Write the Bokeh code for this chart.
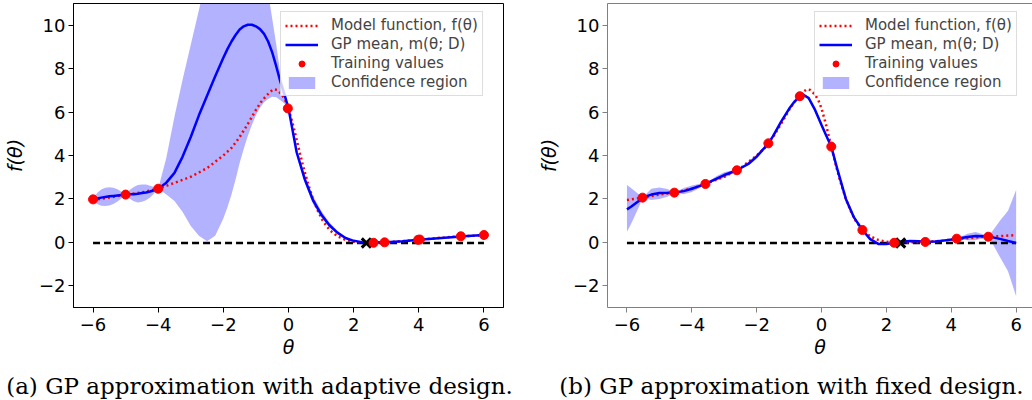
from bokeh.plotting import figure
from bokeh.models import Range1d, FixedTicker, LinearAxis, Legend, LegendItem, Label
from bokeh.layouts import column, row
from bokeh.embed import file_html
from bokeh.resources import INLINE

# ---------------- data ----------------
x_ticks = [-6, -4, -2, 0, 2, 4, 6]
x_tick_labels = ["\u22126", "\u22124", "\u22122", "0", "2", "4", "6"]
y_ticks = [-2, 0, 2, 4, 6, 8, 10]
y_tick_labels = ["\u22122", "0", "2", "4", "6", "8", "10"]

# model function f(theta) (same in both panels)
theta_model = [-6.0, -5.5, -5.0, -4.5, -4.0, -3.5, -3.0, -2.5, -2.0, -1.75, -1.5, -1.25,
               -1.0, -0.85, -0.7, -0.55, -0.45, -0.35, -0.2, -0.1, 0.0, 0.15, 0.3, 0.45,
               0.6, 0.75, 0.9, 1.05, 1.26, 1.5, 1.75, 2.0, 2.25, 2.5, 3.0, 3.5, 4.0, 4.5,
               5.0, 5.5, 6.0]
f_model = [1.95, 2.06, 2.2, 2.3, 2.47, 2.74, 3.02, 3.42, 4.0, 4.35, 4.85, 5.45,
           6.1, 6.45, 6.72, 6.95, 7.05, 7.02, 6.8, 6.55, 6.17, 5.35, 4.41, 3.5,
           2.7, 2.0, 1.45, 1.0, 0.57, 0.28, 0.11, 0.03, -0.01, -0.01, 0.01, 0.05, 0.12, 0.19,
           0.25, 0.29, 0.33]

threshold_theta = [-6.0, 6.0]
threshold_f = [-0.03, -0.03]

# (a) adaptive design
theta_a = [-6.0, -5.875, -5.75, -5.625, -5.5, -5.375, -5.25, -5.125, -5.0, -4.875, -4.75,
           -4.625, -4.5, -4.375, -4.25, -4.125, -4.0, -3.75, -3.5, -3.25, -3.0, -2.75, -2.5,
           -2.25, -2.0, -1.875, -1.75, -1.625, -1.5, -1.375, -1.25, -1.125, -1.0, -0.875,
           -0.75, -0.625, -0.5, -0.375, -0.25, -0.125, 0.0, 0.25, 0.5, 0.75,
           1.0, 1.25, 1.5, 1.75, 2.0, 2.25, 2.5, 2.75, 3.0, 3.5, 4.0, 4.5, 5.0, 5.5, 6.0]
mean_a = [1.98, 2.02, 2.06, 2.09, 2.12, 2.14, 2.16, 2.18, 2.2, 2.21, 2.22,
          2.24, 2.27, 2.3, 2.34, 2.4, 2.47, 2.75, 3.2, 3.95, 4.85, 5.85, 6.75,
          7.65, 8.5, 8.9, 9.25, 9.55, 9.8, 9.95, 10.02, 10.02, 9.95, 9.82,
          9.6, 9.25, 8.75, 8.1, 7.4, 6.82, 6.17, 4.15, 2.9, 1.95,
          1.3, 0.8, 0.45, 0.2, 0.07, 0.01, -0.02, -0.01, 0.01, 0.05, 0.12, 0.18, 0.24, 0.29, 0.34]
lower_a = [1.98, 1.77, 1.69, 1.67, 1.70, 1.77, 1.88, 2.03, 2.2, 2.01, 1.89,
           1.84, 1.87, 1.94, 2.07, 2.25, 2.47, 2.2, 1.9, 1.4, 0.75, 0.3, 0.05,
           0.3, 1.1, 1.62, 2.2, 2.9, 3.65, 4.3, 4.9, 5.4, 5.85, 6.2,
           6.45, 6.6, 6.7, 6.68, 6.55, 6.4, 6.17, 4.0, 2.72, 1.78,
           1.15, 0.68, 0.37, 0.15, 0.04, -0.01, -0.03, -0.02, 0.0, 0.03, 0.12, 0.16, 0.22, 0.28, 0.34]
upper_a = [1.98, 2.27, 2.43, 2.51, 2.54, 2.51, 2.44, 2.33, 2.2, 2.41, 2.55,
           2.64, 2.67, 2.66, 2.61, 2.55, 2.47, 3.9, 5.8, 7.5, 9.1, 10.7, 12.3,
           13.5, 14.5, 14.8, 15.0, 15.1, 15.2, 15.1, 15.0, 14.7, 14.2, 13.5,
           12.6, 11.5, 10.3, 9.1, 7.75, 7.05, 6.17, 4.35, 3.12, 2.15,
           1.47, 0.93, 0.53, 0.25, 0.10, 0.03, -0.01, 0.0, 0.02, 0.07, 0.12, 0.20, 0.26, 0.30, 0.34]
train_theta_a = [-6.0, -5.0, -4.0, -0.02, 2.61, 2.95, 3.98, 4.03, 5.29, 6.0]
train_f_a = [1.98, 2.2, 2.47, 6.17, -0.02, 0.0, 0.12, 0.13, 0.28, 0.34]
mark_theta_a = [2.39]
mark_f_a = [-0.03]

# (b) fixed design
theta_b = [-6.0, -5.875, -5.75, -5.625, -5.52, -5.25, -5.0, -4.75, -4.54, -4.25, -4.0, -3.75,
           -3.58, -3.25, -3.0, -2.75, -2.61, -2.25, -2.0, -1.85, -1.64, -1.5, -1.25, -1.0,
           -0.85, -0.67, -0.57, -0.4, -0.2, 0.0, 0.15, 0.3, 0.5, 0.75, 1.0, 1.26, 1.5, 1.75,
           2.0, 2.24, 2.5, 2.75, 3.0, 3.2, 3.5, 3.75, 4.0, 4.17, 4.5, 4.75, 5.0, 5.14, 5.25,
           5.5, 5.75, 6.0]
mean_b = [1.52, 1.64, 1.78, 1.92, 2.06, 2.2, 2.27, 2.28, 2.29, 2.36, 2.47, 2.6,
          2.69, 2.92, 3.1, 3.24, 3.32, 3.62, 3.95, 4.2, 4.56, 4.88, 5.55, 6.15,
          6.45, 6.73, 6.8, 6.65, 6.1, 5.4, 4.9, 4.41, 3.3, 2.0, 1.15, 0.57, 0.15, -0.07,
          -0.08, -0.02, 0.04, 0.06, 0.05, 0.03, 0.04, 0.08, 0.13, 0.17, 0.25, 0.29, 0.28, 0.26, 0.24,
          0.16, 0.06, -0.03]
lower_b = [0.49, 0.85, 1.25, 1.65, 2.06, 1.95, 2.0, 2.1, 2.29, 2.22, 2.32, 2.5,
           2.69, 2.82, 2.97, 3.16, 3.32, 3.54, 3.85, 4.14, 4.56, 4.82, 5.47, 6.08,
           6.41, 6.73, 6.76, 6.57, 6.0, 5.3, 4.84, 4.41, 3.22, 1.92, 1.09, 0.57, 0.1, -0.12,
           -0.12, -0.02, 0.01, 0.02, 0.03, 0.03, 0.0, 0.02, 0.1, 0.17, 0.1, 0.1, 0.2, 0.26, 0.0,
           -0.68, -1.33, -2.48]
upper_b = [2.64, 2.5, 2.35, 2.2, 2.06, 2.47, 2.53, 2.46, 2.29, 2.5, 2.62, 2.7,
           2.69, 3.04, 3.23, 3.32, 3.32, 3.72, 4.05, 4.27, 4.56, 4.94, 5.63, 6.22,
           6.5, 6.73, 6.84, 6.73, 6.2, 5.5, 4.96, 4.41, 3.38, 2.08, 1.21, 0.57, 0.2, -0.02,
           -0.04, -0.02, 0.07, 0.1, 0.07, 0.03, 0.08, 0.14, 0.16, 0.17, 0.4, 0.48, 0.36, 0.26, 0.48,
           1.0, 1.45, 2.41]
train_theta_b = [-5.52, -4.54, -3.58, -2.61, -1.64, -0.67, 0.30, 1.26, 2.24, 3.20, 4.17, 5.14]
train_f_b = [2.06, 2.29, 2.69, 3.32, 4.56, 6.73, 4.41, 0.57, -0.02, 0.02, 0.17, 0.26]
mark_theta_b = [2.44]
mark_f_b = [-0.03]

captions = ["(a) GP approximation with adaptive design.",
            "(b) GP approximation with fixed design."]
legend_labels = ["Model function, f(\u03b8)", "GP mean, m(\u03b8; D)",
                 "Training values", "Confidence region"]


def make_panel(theta, mean, lower, upper, tr_x, tr_y, mk_x, mk_y, frame_color,
               width, border_left, border_right, x_end):
    p = figure(width=width, height=360, x_range=Range1d(-6.6, x_end), y_range=Range1d(-3, 11),
               toolbar_location=None, output_backend="svg",
               min_border_left=border_left, min_border_right=border_right,
               min_border_top=3, min_border_bottom=53,
               x_axis_label="\u03b8", y_axis_label="f(\u03b8)")
    p.grid.visible = False
    p.background_fill_color = "white"
    p.border_fill_color = "white"

    band = p.varea(x=theta, y1=lower, y2=upper, fill_color="blue", fill_alpha=0.3)
    p.line(threshold_theta, threshold_f, line_color="black", line_width=2.5, line_dash="7 4")
    model = p.line(theta_model, f_model, line_color="red", line_width=2.5, line_dash="2 3")
    gp = p.line(theta, mean, line_color="blue", line_width=2.5)
    p.scatter(mk_x, mk_y, marker="x", size=13, line_color="black", line_width=3)
    pts = p.scatter(tr_x, tr_y, marker="circle", size=9, fill_color="red", line_color="red")

    for ax in (p.xaxis[0], p.yaxis[0]):
        ax.axis_line_color = frame_color
        ax.major_tick_line_color = frame_color
        ax.minor_tick_line_color = None
        ax.major_tick_out = 5
        ax.major_tick_in = 0
        ax.major_label_text_font = "DejaVu Sans"
        ax.major_label_text_font_size = "18px"
        ax.major_label_text_color = "black"
        ax.axis_label_text_font = "DejaVu Sans"
        ax.axis_label_text_font_size = "19px"
        ax.axis_label_text_font_style = "italic"
        ax.axis_label_text_color = "black"
    p.xaxis[0].ticker = FixedTicker(ticks=x_ticks)
    p.yaxis[0].ticker = FixedTicker(ticks=y_ticks)
    p.xaxis[0].major_label_overrides = {t: l for t, l in zip(x_ticks, x_tick_labels)}
    p.yaxis[0].major_label_overrides = {t: l for t, l in zip(y_ticks, y_tick_labels)}
    p.xaxis[0].major_label_standoff = 5
    p.yaxis[0].major_label_standoff = 3
    p.xaxis[0].axis_label_standoff = 2
    p.yaxis[0].axis_label_standoff = 10

    legend = Legend(items=[LegendItem(label=legend_labels[0], renderers=[model]),
                           LegendItem(label=legend_labels[1], renderers=[gp]),
                           LegendItem(label=legend_labels[2], renderers=[pts]),
                           LegendItem(label=legend_labels[3], renderers=[band])],
                    location=(207, 211), label_text_font="DejaVu Sans",
                    label_text_font_size="15px", glyph_width=33, glyph_height=15,
                    label_height=15, label_standoff=13, spacing=1, padding=4, margin=0,
                    border_line_color="#bbbbbb", border_line_width=1,
                    background_fill_color="white", background_fill_alpha=0.8)
    p.add_layout(legend)
    return p


pA = make_panel(theta_a, mean_a, lower_a, upper_a, train_theta_a, train_f_a,
                mark_theta_a, mark_f_a, "black", 510, 73, 7, 6.6)
pA.outline_line_color = "black"
pA.outline_line_width = 1

pB = make_panel(theta_b, mean_b, lower_b, upper_b, train_theta_b, train_f_b,
                mark_theta_b, mark_f_b, "#808080", 522, 97, 0, 6.505)
pB.outline_line_color = None
top_axis = LinearAxis(ticker=FixedTicker(ticks=[]), axis_line_color="#808080",
                      major_tick_line_color=None, minor_tick_line_color=None,
                      major_tick_out=0, major_label_standoff=0)
pB.add_layout(top_axis, "above")

pC = figure(width=1032, height=40, x_range=Range1d(0, 1032), y_range=Range1d(0, 40),
            toolbar_location=None, output_backend="svg", min_border=0,
            x_axis_location=None, y_axis_location=None)
pC.grid.visible = False
pC.outline_line_color = None
pC.add_layout(Label(x=259, y=15, text=captions[0], text_align="center",
                    text_baseline="alphabetic", text_font="DejaVu Serif",
                    text_font_size="23px", text_color="black"))
pC.add_layout(Label(x=791, y=15, text=captions[1], text_align="center",
                    text_baseline="alphabetic", text_font="DejaVu Serif",
                    text_font_size="23px", text_color="black"))

layout = column(row(pA, pB), pC)
open("out.html", "w").write(file_html(layout, INLINE))
